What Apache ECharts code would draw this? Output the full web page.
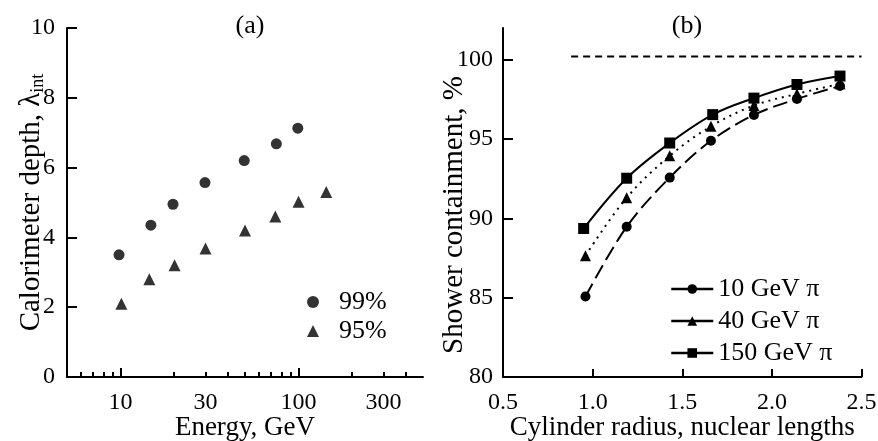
<!DOCTYPE html>
<html><head><meta charset="utf-8">
<script src="https://cdn.jsdelivr.net/npm/echarts@6/dist/echarts.min.js"></script>
<style>html,body{margin:0;padding:0;background:#fff}#c{width:878px;height:441px}</style>
</head><body><div id="c"></div>
<script>
// Panel (a)
const energy99 = [9.8, 14.8, 19.7, 29.8, 49.5, 75, 99];
const depth99 = [3.5, 4.35, 4.95, 5.57, 6.2, 6.68, 7.13];
const energy95 = [10.1, 14.5, 20.1, 30, 50, 74, 100, 143];
const depth95 = [2.1, 2.8, 3.2, 3.68, 4.2, 4.6, 5.02, 5.3];
const energyTickLabels = [10, 30, 100, 300];
const energyMinorTicks = [6, 7, 8, 9, 20, 30, 40, 50, 60, 70, 80, 90, 200, 300, 400];
const energyMajorTicks = [10, 100];
const depthTicks = [0, 2, 4, 6, 8, 10];
// Panel (b)
const radius = [0.96, 1.19, 1.43, 1.66, 1.90, 2.14, 2.38];
const radius150 = [0.95, 1.19, 1.43, 1.67, 1.90, 2.14, 2.38];
const cont10 = [85.07, 89.47, 92.57, 94.89, 96.52, 97.53, 98.34];
const cont40 = [87.65, 91.3, 93.94, 95.8, 97.11, 97.85, 98.48];
const cont150 = [89.36, 92.53, 94.75, 96.54, 97.58, 98.44, 98.97];
const refLineX = [0.88, 2.5];
const refLineY = 100.2;
const radiusTicks = [0.5, 1.0, 1.5, 2.0, 2.5];
const contTicks = [80, 85, 90, 95, 100];

const F = 'Liberation Serif';
const K = '#000';
const zip = (a, b) => a.map((v, i) => [v, b[i]]);
const axisLineS = {show: true, lineStyle: {color: K, width: 2}};

const chart = echarts.init(document.getElementById('c'));
chart.setOption({
  animation: false,
  backgroundColor: '#fff',
  textStyle: {fontFamily: F, color: K},
  title: [
    {text: '(a)', left: 245, top: 8, textAlign: 'center', textStyle: {fontFamily: F, fontSize: 26, fontWeight: 'normal', color: K}},
    {text: '(b)', left: 682, top: 8, textAlign: 'center', textStyle: {fontFamily: F, fontSize: 26, fontWeight: 'normal', color: K}}
  ],
  grid: [
    {left: 67, top: 28, right: 455, bottom: 64, containLabel: false, outerBoundsMode: 'none'},
    {left: 503, top: 28, right: 16.5, bottom: 64, containLabel: false, outerBoundsMode: 'none'}
  ],
  legend: [
    {
      left: 302, top: 284, orient: 'vertical', itemWidth: 12, itemHeight: 12, itemGap: 3,
      textStyle: {fontFamily: F, fontSize: 26, lineHeight: 25, color: K, padding: [0, 0, 0, 15]},
      data: ['99%', '95%']
    },
    {
      left: 665, top: 271, orient: 'vertical', itemWidth: 42, itemHeight: 12, itemGap: 6,
      textStyle: {fontFamily: F, fontSize: 26, lineHeight: 25, color: K},
      data: [
        {name: '10 GeV π', lineStyle: {type: 'solid', width: 2.5}},
        {name: '40 GeV π', lineStyle: {type: 'solid', width: 2.5}},
        {name: '150 GeV π', lineStyle: {type: 'solid', width: 2.5}}
      ]
    }
  ],
  xAxis: [
    {
      gridIndex: 0, type: 'log', logBase: 10, min: 5, max: 500,
      name: 'Energy, GeV', nameLocation: 'middle', nameGap: 37, nameMoveOverlap: false,
      nameTextStyle: {fontFamily: F, fontSize: 27, color: K},
      axisLine: axisLineS,
      axisTick: {show: true, inside: true, length: 5, customValues: energyMinorTicks, lineStyle: {color: K, width: 2}},
      axisLabel: {show: true, customValues: energyTickLabels, fontFamily: F, fontSize: 24, color: K, margin: 14},
      splitLine: {show: false}, minorTick: {show: false}, minorSplitLine: {show: false}
    },
    {
      gridIndex: 0, type: 'log', logBase: 10, min: 5, max: 500, position: 'bottom',
      axisLine: {show: false},
      axisTick: {show: true, inside: true, length: 9, customValues: energyMajorTicks, lineStyle: {color: K, width: 2}},
      axisLabel: {show: false}, splitLine: {show: false}
    },
    {
      gridIndex: 1, type: 'value', min: 0.5, max: 2.5, interval: 0.5,
      name: 'Cylinder radius, nuclear lengths', nameLocation: 'middle', nameGap: 37, nameMoveOverlap: false,
      nameTextStyle: {fontFamily: F, fontSize: 27, color: K},
      axisLine: axisLineS,
      axisTick: {show: true, inside: true, length: 8, customValues: radiusTicks, lineStyle: {color: K, width: 2}},
      axisLabel: {show: true, customValues: radiusTicks, fontFamily: F, fontSize: 24, color: K, margin: 14, formatter: v => v.toFixed(1)},
      splitLine: {show: false}
    }
  ],
  yAxis: [
    {
      gridIndex: 0, type: 'value', min: 0, max: 10, interval: 2,
      name: 'Calorimeter depth, λ{sub|int}', nameLocation: 'middle', nameGap: 20, nameMoveOverlap: false,
      nameTextStyle: {fontFamily: F, fontSize: 29, color: K, lineHeight: 32,
        rich: {sub: {fontFamily: F, fontSize: 18, color: K, verticalAlign: 'bottom'}}},
      axisLine: axisLineS,
      axisTick: {show: true, inside: true, length: 10, customValues: depthTicks, lineStyle: {color: K, width: 2}},
      axisLabel: {show: true, customValues: depthTicks, fontFamily: F, fontSize: 24, color: K, margin: 12},
      splitLine: {show: false}
    },
    {
      gridIndex: 1, type: 'value', min: 80, max: 102,
      name: 'Shower containment, %', nameLocation: 'middle', nameGap: 34, nameMoveOverlap: false,
      nameTextStyle: {fontFamily: F, fontSize: 29, color: K, padding: [0, 25, 0, 0]},
      axisLine: axisLineS,
      axisTick: {show: true, inside: true, length: 10, customValues: contTicks, lineStyle: {color: K, width: 2}},
      axisLabel: {show: true, customValues: contTicks, fontFamily: F, fontSize: 24, color: K, margin: 10},
      splitLine: {show: false}
    }
  ],
  series: [
    {name: '99%', type: 'scatter', xAxisIndex: 0, yAxisIndex: 0, symbol: 'circle', symbolSize: 11,
     itemStyle: {color: K}, data: zip(energy99, depth99)},
    {name: '95%', type: 'scatter', xAxisIndex: 0, yAxisIndex: 0, symbol: 'triangle', symbolSize: 12,
     itemStyle: {color: K}, data: zip(energy95, depth95)},
    {name: 'ref', type: 'line', xAxisIndex: 2, yAxisIndex: 1, symbol: 'none',
     lineStyle: {color: K, width: 2, type: [7, 5]}, data: refLineX.map(x => [x, refLineY])},
    {name: '10 GeV π', type: 'line', xAxisIndex: 2, yAxisIndex: 1, smooth: 0.35, symbol: 'circle', symbolSize: 10,
     itemStyle: {color: K}, lineStyle: {color: K, width: 2, type: [15, 6]}, data: zip(radius, cont10)},
    {name: '40 GeV π', type: 'line', xAxisIndex: 2, yAxisIndex: 1, smooth: 0.35, symbol: 'triangle', symbolSize: 11,
     itemStyle: {color: K}, lineStyle: {color: K, width: 2, type: [2, 5]}, data: zip(radius, cont40)},
    {name: '150 GeV π', type: 'line', xAxisIndex: 2, yAxisIndex: 1, smooth: 0.35, symbol: 'rect', symbolSize: 11,
     itemStyle: {color: K}, lineStyle: {color: K, width: 2}, data: zip(radius150, cont150)}
  ]
});
</script>
</body></html>
